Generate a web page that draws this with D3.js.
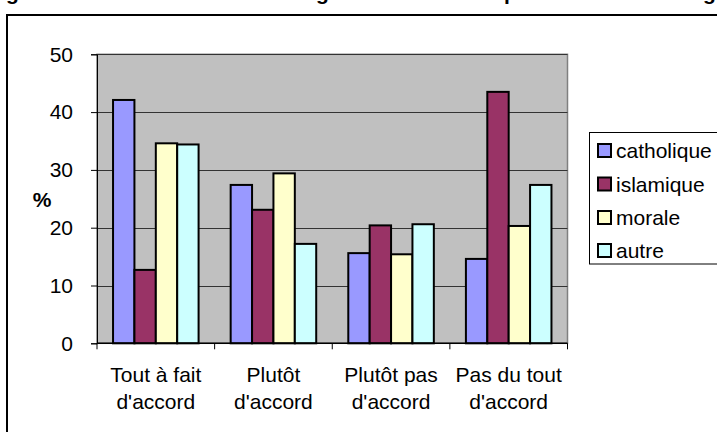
<!DOCTYPE html>
<html>
<head>
<meta charset="utf-8">
<script src="https://cdn.jsdelivr.net/npm/d3@7"></script>
<style>
  html, body { margin: 0; padding: 0; background: #fff; }
  svg { display: block; font-family: "Liberation Sans", Arial, sans-serif; }
</style>
</head>
<body>
<svg id="chart" width="717" height="432"></svg>
<script>
// Answer categories (two-line labels) and series per course followed
const categories = [["Tout à fait", "d'accord"], ["Plutôt", "d'accord"], ["Plutôt pas", "d'accord"], ["Pas du tout", "d'accord"]];
const seriesNames = ["catholique", "islamique", "morale", "autre"];
const catholique = [42.1, 27.4, 15.6, 14.6];
const islamique = [12.7, 23.1, 20.4, 43.5];
const morale = [34.6, 29.4, 15.4, 20.3];
const autre = [34.4, 17.2, 20.6, 27.4];
const yTicks = [0, 10, 20, 30, 40, 50];
const colors = ["#9999FF", "#993366", "#FFFFCC", "#CCFFFF"];

const seriesValues = [catholique, islamique, morale, autre];
const svg = d3.select("#chart");

// Title row cut by the top edge: only descenders remain visible
const titleBits = [{t: "g", x: 6}, {t: "g", x: 316}, {t: "p", x: 504}, {t: "g", x: 703}];
svg.append("g").selectAll("text").data(titleBits).join("text")
  .attr("x", d => d.x).attr("y", 0)
  .attr("font-size", 21).attr("font-weight", "bold").attr("fill", "#000")
  .text(d => d.t);

// Outer chart frame
svg.append("rect")
  .attr("x", 7).attr("y", 15).attr("width", 760).attr("height", 460)
  .attr("fill", "#fff").attr("stroke", "#000").attr("stroke-width", 2);

const plot = {left: 97, right: 567.5, top: 54.3, bottom: 343.3};

const x0 = d3.scaleBand().domain(d3.range(categories.length)).range([plot.left, plot.right]);
const bw = x0.bandwidth();
const x1 = d3.scaleBand().domain(seriesNames).range([bw * 0.75 / 5.5, bw * 4.75 / 5.5]);
const y = d3.scaleLinear().domain([0, 50]).range([plot.bottom, plot.top]);

// Plot area background
svg.append("rect")
  .attr("x", plot.left).attr("y", plot.top)
  .attr("width", plot.right - plot.left).attr("height", plot.bottom - plot.top)
  .attr("fill", "#C0C0C0").attr("stroke", "#808080").attr("stroke-width", 1.5);

// Horizontal gridlines
svg.append("g").selectAll("line").data(yTicks.filter(v => v > 0)).join("line")
  .attr("x1", plot.left).attr("x2", plot.right)
  .attr("y1", d => Math.round(y(d)) + 0.5).attr("y2", d => Math.round(y(d)) + 0.5)
  .attr("stroke", "#333").attr("stroke-width", 1);

// Bars
const groups = svg.append("g").selectAll("g").data(categories).join("g")
  .attr("transform", (d, i) => `translate(${x0(i)},0)`);
groups.selectAll("rect").data((d, i) => seriesNames.map((s, j) => ({s, j, v: seriesValues[j][i]}))).join("rect")
  .attr("x", d => x1(d.s)).attr("width", x1.bandwidth())
  .attr("y", d => y(d.v)).attr("height", d => y(0) - y(d.v))
  .attr("fill", d => colors[d.j]).attr("stroke", "#000").attr("stroke-width", 2);

// Y axis
const yAxis = d3.axisLeft(y).tickValues(yTicks).tickSize(6).tickPadding(18);
const ya = svg.append("g").attr("transform", `translate(${plot.left},0)`).call(yAxis);
ya.select(".domain").attr("stroke", "#000");
ya.selectAll(".tick line").attr("stroke", "#000");
ya.selectAll("text").attr("font-size", 21).attr("fill", "#000")
  .attr("font-family", "'Liberation Sans', Arial, sans-serif");

// X axis with ticks between categories
const xBoundaries = d3.range(categories.length + 1).map(i => plot.left + i * bw);
svg.append("line").attr("x1", plot.left).attr("x2", plot.right)
  .attr("y1", plot.bottom).attr("y2", plot.bottom).attr("stroke", "#000").attr("stroke-width", 1.5);
svg.append("g").selectAll("line").data(xBoundaries).join("line")
  .attr("x1", d => d).attr("x2", d => d)
  .attr("y1", plot.bottom).attr("y2", plot.bottom + 6)
  .attr("stroke", "#000").attr("stroke-width", 1);

svg.append("g").selectAll("text").data(categories).join("text")
  .attr("x", (d, i) => x0(i) + bw / 2).attr("y", 381.5)
  .attr("text-anchor", "middle").attr("font-size", 21).attr("fill", "#000")
  .selectAll("tspan").data(d => d).join("tspan")
  .attr("x", function () { return d3.select(this.parentNode).attr("x"); })
  .attr("dy", (d, i) => i === 0 ? 0 : 27.5)
  .text(d => d);

// Y axis title
svg.append("text").attr("x", 42).attr("y", 207)
  .attr("text-anchor", "middle").attr("font-size", 21).attr("font-weight", "bold")
  .text("%");

// Legend
const legend = svg.append("g");
legend.append("rect").attr("x", 589.5).attr("y", 132.5).attr("width", 130).attr("height", 131.5)
  .attr("fill", "#fff").attr("stroke", "#000").attr("stroke-width", 1);
const rowY = [150.5, 184, 217.5, 250.5];
const items = legend.selectAll("g.item").data(seriesNames).join("g").attr("class", "item");
items.append("rect")
  .attr("x", 598).attr("y", (d, i) => rowY[i] - 6.5).attr("width", 13).attr("height", 13)
  .attr("fill", (d, i) => colors[i]).attr("stroke", "#000").attr("stroke-width", 2);
items.append("text")
  .attr("x", 616).attr("y", (d, i) => rowY[i] + 7.5)
  .attr("font-size", 21).attr("fill", "#000")
  .text(d => d);
</script>
</body>
</html>
